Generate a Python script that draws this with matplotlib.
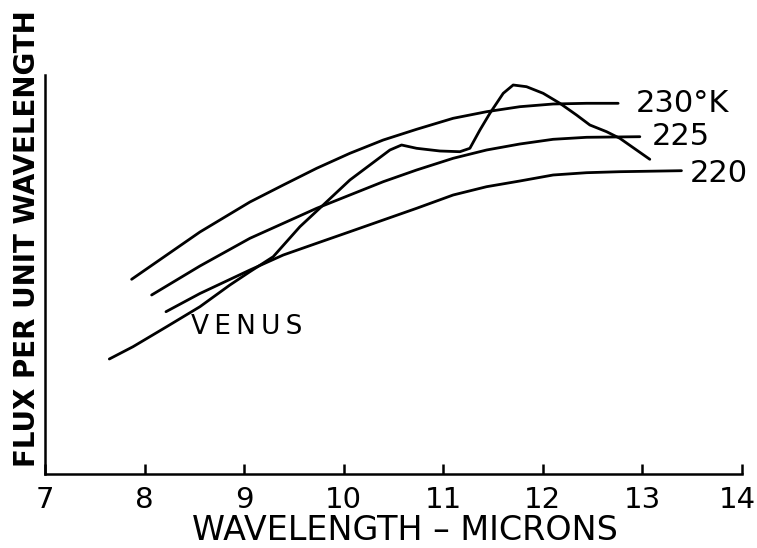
import matplotlib
matplotlib.use("Agg")
import matplotlib.pyplot as plt
from matplotlib.transforms import ScaledTranslation

# Black-body curves (arbitrary flux units)
x230 = [7.870, 8.556, 9.058, 9.393, 9.728, 10.062, 10.397, 10.732, 11.099, 11.435,
        11.769, 12.103, 12.439, 12.756]
y230 = [1.877, 2.35, 2.65, 2.82, 2.987, 3.137, 3.27, 3.377, 3.487, 3.553,
        3.603, 3.63, 3.637, 3.637]

x225 = [8.071, 8.556, 9.058, 9.393, 9.728, 10.062, 10.397, 10.732, 11.099, 11.435,
        11.769, 12.103, 12.439, 12.974]
y225 = [1.72, 2.01, 2.287, 2.437, 2.587, 2.72, 2.853, 2.97, 3.087, 3.17,
        3.23, 3.277, 3.297, 3.303]

x220 = [8.215, 8.556, 9.058, 9.393, 9.728, 10.062, 10.397, 10.732, 11.099, 11.435,
        11.769, 12.103, 12.439, 12.773, 13.392]
y220 = [1.553, 1.735, 1.97, 2.12, 2.237, 2.353, 2.47, 2.587, 2.72, 2.803,
        2.86, 2.92, 2.943, 2.953, 2.963]

# Venus observed spectrum
xven = [7.646, 7.884, 8.222, 8.556, 8.857, 9.058, 9.292, 9.560, 9.794, 10.062,
        10.330, 10.464, 10.581, 10.732, 10.966, 11.167, 11.267, 11.368, 11.468,
        11.602, 11.702, 11.836, 12.003, 12.171, 12.338, 12.472, 12.640, 12.773, 13.074]
yven = [1.08, 1.203, 1.403, 1.603, 1.82, 1.953, 2.103, 2.403, 2.62, 2.87,
        3.07, 3.17, 3.22, 3.187, 3.16, 3.153, 3.187, 3.37, 3.537,
        3.737, 3.82, 3.803, 3.737, 3.637, 3.52, 3.42, 3.353, 3.287, 3.077]

xticks = [7, 8, 9, 10, 11, 12, 13, 14]
curve_labels = ["230°K", "225", "220"]

fig = plt.figure(figsize=(7.57, 5.48), dpi=100)
ax = fig.add_axes([45 / 757, 74 / 548, 697 / 757, 399 / 548])

lw = 2.0
for xs, ys in [(x230, y230), (x225, y225), (x220, y220), (xven, yven)]:
    ax.plot(xs, ys, color="black", lw=lw, solid_capstyle="round", solid_joinstyle="round")

ax.set_xlim(7, 14)
ax.set_ylim(-0.07, 3.92)
ax.set_xticks(xticks)
ax.set_xticklabels([str(t) for t in xticks], fontsize=21)
ax.set_yticks([])
ax.tick_params(axis="x", direction="in", length=7, width=1.8, pad=9)
for s in ["top", "right"]:
    ax.spines[s].set_visible(False)
for s in ["left", "bottom"]:
    ax.spines[s].set_linewidth(1.8)

last = ax.get_xticklabels()[-1]
last.set_transform(last.get_transform() + ScaledTranslation(-5 / 100, 0, fig.dpi_scale_trans))

fig.text(405 / 757, 1 - 530 / 548, "WAVELENGTH – MICRONS", fontsize=24,
         ha="center", va="center")
fig.text(27 / 757, 1 - 239 / 548, "FLUX PER UNIT WAVELENGTH", fontsize=20,
         fontweight="bold", rotation=90, ha="center", va="center")

ax.text(12.93, 3.63, curve_labels[0], fontsize=22, va="center", ha="left")
ax.text(13.09, 3.30, curve_labels[1], fontsize=22, va="center", ha="left")
ax.text(13.48, 2.93, curve_labels[2], fontsize=22, va="center", ha="left")
ax.text(8.47, 1.40, "V\u2009E\u2009N\u2009U\u2009S", fontsize=19, va="center", ha="left")

fig.savefig("out.png", dpi=100)
